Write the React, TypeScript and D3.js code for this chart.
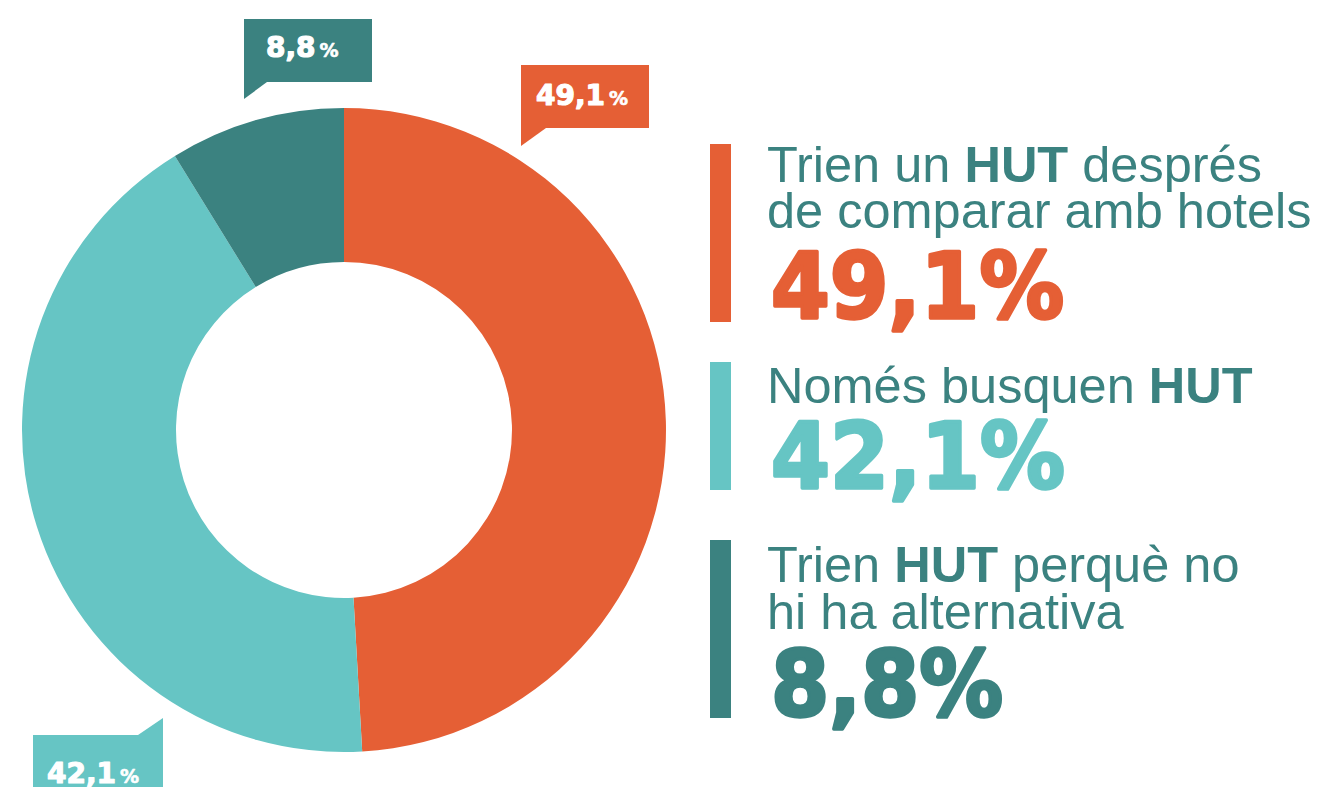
import React from 'react';
import * as d3 from 'd3';

// share of each answer, %
const labels = ['49,1%', '42,1%', '8,8%'];
const values = [49.1, 42.1, 8.8];
const colors = ['#e55f35', '#66c5c4', '#3b8280'];
const textColor = '#3b8280';

// legend text, each line is a list of [text, bold]
const legendLines: [string, boolean][][][] = [
  [
    [['Trien un ', false], ['HUT', true], [' després', false]],
    [['de comparar amb hotels', false]],
  ],
  [[['Només busquen ', false], ['HUT', true]]],
  [
    [['Trien ', false], ['HUT', true], [' perquè no', false]],
    [['hi ha alternativa', false]],
  ],
];

const W = 1332;
const H = 787;
const cx = 344;
const cy = 430;
const outerR = 322;
const innerR = 168;

const sans = '"Liberation Sans", Arial, sans-serif';
const heavy = '"DejaVu Sans", sans-serif';

// callout boxes (annotation placement)
const callouts = [
  { box: [521, 65, 128, 63], tail: [[521, 128], [521, 146], [546, 128]], tx: 536, ty: 105, num: '49,1' },
  { box: [33, 735, 130, 60], tail: [[138, 735], [163, 718], [163, 735]], tx: 47, ty: 783, num: '42,1' },
  { box: [244, 19, 128, 63], tail: [[244, 82], [244, 99], [267, 82]], tx: 266, ty: 57, num: '8,8' },
];

// legend blocks: bar top / bottom, line baselines, number baseline
const blocks = [
  { top: 144, bottom: 322, lines: [182, 228], numY: 318, numW: 293 },
  { top: 362, bottom: 490, lines: [403], numY: 488, numW: 294 },
  { top: 540, bottom: 718, lines: [582, 629], numY: 716, numW: 232 },
];

export default function App() {
  const pie = d3.pie<number>().sort(null).value((d) => d);
  const arcs = pie(values);
  const arc = d3.arc<d3.PieArcDatum<number>>().innerRadius(innerR).outerRadius(outerR);

  return (
    <svg
      width={W}
      height={H}
      style={{ position: 'absolute', left: 0, top: 0, background: '#fff' }}
    >
      <g transform={`translate(${cx},${cy})`}>
        {arcs.map((a, i) => (
          <path key={i} d={arc(a) || ''} fill={colors[i]} />
        ))}
      </g>

      {callouts.map((c, i) => (
        <g key={i}>
          <rect x={c.box[0]} y={c.box[1]} width={c.box[2]} height={c.box[3]} fill={colors[i]} />
          <polygon points={c.tail.map((p) => p.join(',')).join(' ')} fill={colors[i]} />
          <text
            x={c.tx}
            y={c.ty}
            fill="#fff"
            stroke="#fff"
            strokeWidth={1.2}
            strokeLinejoin="round"
            fontFamily={heavy}
            fontWeight="bold"
            fontSize={28}
          >
            {c.num}
            <tspan fontSize={19} dx={4} strokeWidth={0.6}>%</tspan>
          </text>
        </g>
      ))}

      {blocks.map((b, i) => (
        <g key={i}>
          <rect x={710} y={b.top} width={21} height={b.bottom - b.top} fill={colors[i]} />
          {legendLines[i].map((line, j) => (
            <text key={j} x={767} y={b.lines[j]} fill={textColor} fontFamily={sans} fontSize={50.5}>
              {line.map(([t, bold], k) => (
                <tspan key={k} fontWeight={bold ? 900 : 400} xmlSpace="preserve">
                  {t}
                </tspan>
              ))}
            </text>
          ))}
          <text
            x={771}
            y={b.numY}
            fill={colors[i]}
            stroke={colors[i]}
            strokeWidth={3.5}
            strokeLinejoin="round"
            fontFamily={heavy}
            fontWeight="bold"
            fontSize={90}
            textLength={b.numW}
            lengthAdjust="spacingAndGlyphs"
          >
            {labels[i]}
          </text>
        </g>
      ))}
    </svg>
  );
}
